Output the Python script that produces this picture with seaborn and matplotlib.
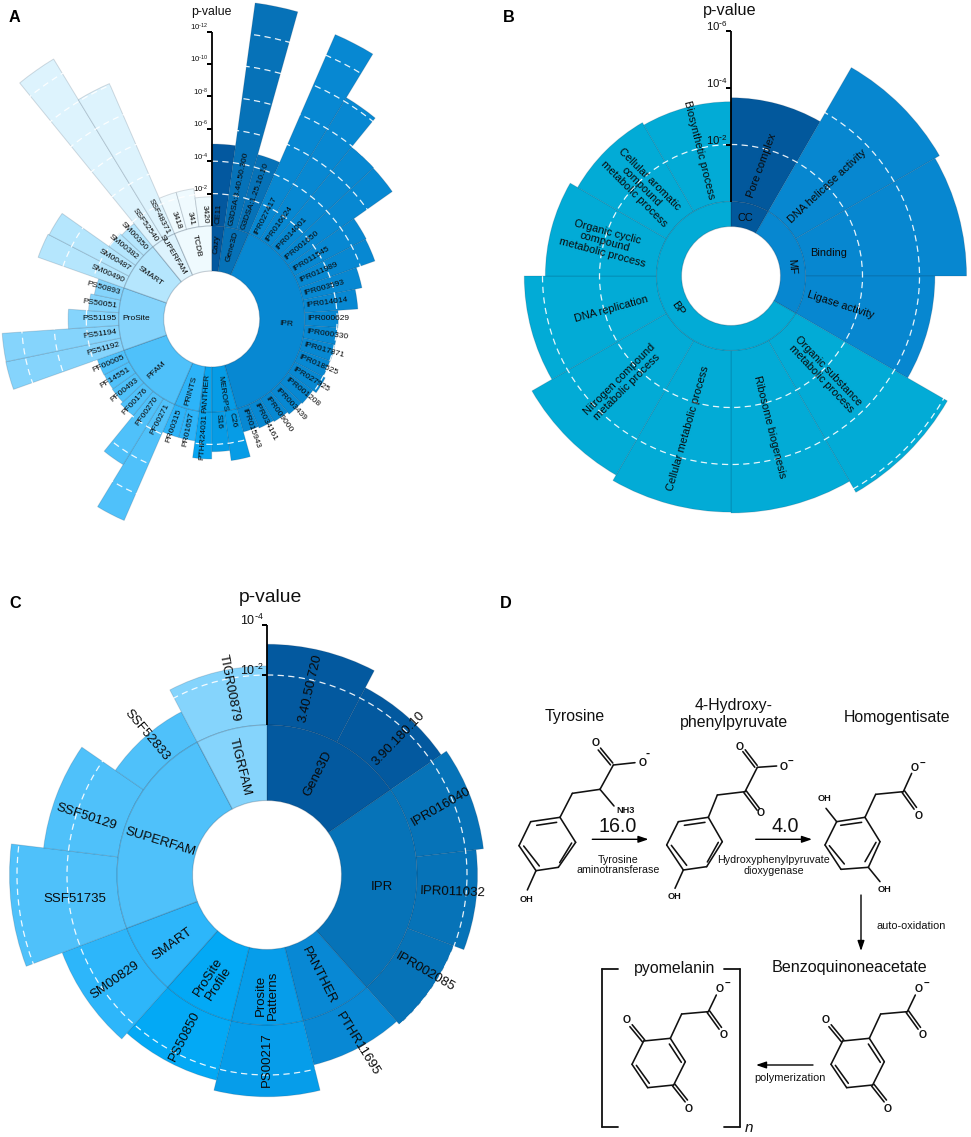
import numpy as np
import pandas as pd
import matplotlib
matplotlib.use("Agg")
import matplotlib.pyplot as plt
import seaborn as sns

W, H = 971, 1137

# ---------- Panel A data ----------
a_groups = ["Cazy", "Gene3D", "IPR", "MEROPS", "PANTHER", "PRINTS", "PFAM", "ProSite", "SMART", "SUPERFAM", "TCDB"]
a_counts = [1, 2, 18, 2, 1, 2, 6, 5, 4, 2, 3]
a_colors = ["#03589F", "#0672B8", "#0788D2", "#069CE6", "#08A5F1", "#2DB4F9", "#4FC1FA", "#85D4FC", "#B5E6FD", "#DDF3FD", "#EFFAFE"]
a_labels = ["CE11", "G3DSA:3.40.50.300", "G3DSA:1.25.10.10", "IPR027417", "IPR016024", "IPR014001", "IPR001650",
            "IPR011545", "IPR011989", "IPR003593", "IPR014014", "IPR000629", "IPR000330", "IPR017871", "IPR018525",
            "IPR027925", "IPR001208", "IPR003439", "IPR009000", "IPR034161", "IPR015943", "C26", "S16", "PTHR24031",
            "PR01657", "PR00315", "PF00271", "PF00270", "PF00176", "PF00493", "PF14551", "PF00005", "PS51192",
            "PS51194", "PS51195", "PS50051", "PS50893", "SM00490", "SM00487", "SM00382", "SM00350", "SSF52540",
            "SSF48371", "3418", "341", "3420"]
a_logp = [5.06, 13.95, 4.8, 13.4, 10.25, 7.94, 7.9, 5.0, 4.95, 3.73, 3.3, 2.07, 2.03, 2.03, 2.0, 2.15, 1.9, 1.83,
          1.67, 1.6, 1.5, 3.08, 2.45, 2.9, 1.85, 1.85, 7.82, 4.78, 1.95, 1.77, 1.73, 1.75, 7.24, 7.22, 3.12, 1.88,
          1.66, 5.63, 5.56, 2.02, 1.85, 13.04, 10.1, 2.38, 2.38, 1.8]
a_ticks = [2, 4, 6, 8, 10, 12]

# ---------- Panel B data ----------
b_groups = ["CC", "MF", "BP"]
b_counts = [1, 3, 8]
b_colors = ["#02589C", "#0787D0", "#02ABD6"]
b_labels = ["Pore complex", "DNA helicase activity", "Binding", "Ligase activity",
            "Organic substance\nmetabolic process", "Ribosome biogenesis", "Cellular metabolic process",
            "Nitrogen compound\nmetabolic process", "DNA replication",
            "Organic cyclic\ncompound\nmetabolic process", "Cellular aromatic\ncompound\nmetabolic process",
            "Biosynthetic process"]
b_logp = [3.64, 5.83, 5.65, 4.54, 6.15, 5.7, 5.67, 5.45, 4.64, 3.9, 3.6, 3.5]
b_ticks = [2, 4, 6]

# ---------- Panel C data ----------
c_groups = ["Gene3D", "IPR", "PANTHER", "Prosite\nPatterns", "ProSite\nProfile", "SMART", "SUPERFAM", "TIGRFAM"]
c_counts = [2, 3, 1, 1, 1, 1, 3, 1]
c_colors = ["#03599F", "#0673B8", "#0888D4", "#069DEA", "#03A9F5", "#2DB6FA", "#4FC1FA", "#85D4FC"]
c_labels = ["3.40.50.720", "3.90.180.10", "IPR016040", "IPR011032", "IPR002085", "PTHR11695", "PS00217", "PS50850",
            "SM00829", "SSF51735", "SSF50129", "SSF52833", "TIGR00879"]
c_logp = [3.23, 2.46, 2.72, 2.42, 1.98, 1.82, 2.87, 2.45, 2.76, 4.3, 3.0, 1.37, 2.36]
c_ticks = [2, 4]

# ---------- label placement (theta deg, radial position, rotation) ----------
b_leaf_place = [(15.5, 1.4, 70), (47, 2.0, 43), (76.7, 0.9, 0), (105, 1.35, -18), (136.5, 2.17, -46.5),
                (165.5, 2.85, -76), (195.7, 2.93, 74), (225, 2.72, 45), (254.5, 1.73, 15.5), (285, 1.97, -15),
                (315, 1.82, -45), (346, 1.95, -76)]
b_ring_place = [(13.6, -0.53, 0), (81, -0.47, -85), (239, -0.44, -55)]
c_leaf_place = [(13, 1.66, 77), (43.8, 1.58, 46), (68.6, 1.5, 30), (95.4, 1.48, -2), (121.6, 1.43, -30),
                (152, 1.68, -58), (180, 1.4, 90), (207, 1.25, 63), (235.4, 1.39, 35), (263, 1.74, 0),
                (287.7, 1.6, -18), (319.3, 1.38, -50), (348.6, 1.62, -79)]
c_ring_place = [(26.8, -1.44, 63), (96, -1.36, 0), (153, -1.48, -63), (180, -1.2, 90), (207, -1.28, 57),
                (234, -1.32, 36), (287, -1.52, -17), (346, -1.54, -76)]

sns.set_theme(style="white")
plt.rcParams["font.family"] = ["Liberation Sans", "DejaVu Sans"]
plt.rcParams["mathtext.default"] = "regular"
fig = plt.figure(figsize=(W / 100, H / 100), dpi=100)
fig.patch.set_facecolor("white")

EDGE = (0.05, 0.15, 0.25, 0.16)


def sunburst(cx, cy, hole, ring_r, scale, outer, groups, counts, colors, labels, logp, ticks,
             tick_fs, title, title_xy, title_fs, top):
    ax = fig.add_axes([(cx - outer) / W, 1 - (cy + outer) / H, 2 * outer / W, 2 * outer / H],
                      projection="polar")
    n = len(labels)
    step = 2 * np.pi / n
    owner = np.repeat(groups, counts)
    df = pd.DataFrame({"theta": (np.arange(n) + 0.5) * step, "logp": logp, "group": owner})
    sns.barplot(data=df, x="theta", y="logp", hue="group", palette=dict(zip(groups, colors)), orient="x",
                native_scale=True, dodge=False, width=1, saturation=1, errorbar=None, legend=False, ax=ax,
                edgecolor=EDGE, linewidth=0.7)
    ring_bottom = -(ring_r - hole) / scale
    starts = np.concatenate([[0], np.cumsum(counts)[:-1]]) * step
    ax.bar(starts, [-ring_bottom] * len(groups), width=np.array(counts) * step, bottom=ring_bottom, align="edge",
           color=colors, edgecolor=(0.05, 0.15, 0.25, 0.22), linewidth=0.8)
    ax.set_theta_zero_location("N")
    ax.set_theta_direction(-1)
    ax.set_xlim(0, 2 * np.pi)
    ax.set_ylim(-ring_r / scale, (outer - ring_r) / scale)
    ax.set_xticks([])
    ax.set_yticks(ticks)
    ax.set_yticklabels([])
    ax.set_xlabel("")
    ax.set_ylabel("")
    ax.set_axisbelow(False)
    ax.yaxis.grid(True, color="white", linestyle=(0, (5, 3.5)), linewidth=0.9, alpha=0.9)
    ax.xaxis.grid(False)
    ax.spines["polar"].set_visible(False)
    ax.patch.set_alpha(0)
    ax.plot([0, 0], [0, top], color="black", lw=1.3, zorder=6, solid_capstyle="butt")
    ax.plot([0] * len(ticks), ticks, ls="", marker=0, ms=3.6, mew=1.1, color="black", zorder=6)
    for t in ticks:
        ax.annotate(rf"$10^{{\text{{-}}{t}}}$", xy=(0, t), xytext=(-2.5, 3), textcoords="offset points",
                    ha="right", va="center", fontsize=tick_fs, color="#111111", zorder=7)
    fig.text(title_xy[0] / W, 1 - title_xy[1] / H, title, fontsize=title_fs, ha="center", va="center", color="#111111")
    return ax, step, starts


# ---------- Panel A ----------
ax, step, starts = sunburst(211.7, 319, 48, 93, 16.2, 322, a_groups, a_counts, a_colors, a_labels, a_logp, a_ticks,
                            5.6, "p-value", (211, 12), 8.8, 12)
for i, lab in enumerate(a_labels):
    deg = (i + 0.5) * 360 / len(a_labels)
    right = deg < 180
    ax.text(np.radians(deg), 0.15, lab, rotation=(90 - deg) if right else (270 - deg), rotation_mode="anchor",
            ha="left" if right else "right", va="center", fontsize=6.0, color="#0a0a0a", zorder=8)
for g, s, c in zip(a_groups, starts, a_counts):
    mid = s + c * step / 2
    deg = np.degrees(mid)
    ax.text(mid, -1.11, g, rotation=(90 - deg) if deg < 180 else (270 - deg), rotation_mode="anchor",
            ha="center", va="center", fontsize=6.0, color="#0a0a0a", zorder=8)

# ---------- Panel B ----------
ax, step, starts = sunburst(731, 276, 49.5, 74.5, 28.5, 256, b_groups, b_counts, b_colors, b_labels, b_logp, b_ticks,
                            8.2, "p-value", (730, 10), 11.7, 6)
for lab, (deg, d, rot) in zip(b_labels, b_leaf_place):
    ax.text(np.radians(deg), d, lab, rotation=rot, rotation_mode="anchor", ha="center", va="center",
            fontsize=7.9, color="#0a0a0a", zorder=8, linespacing=1.05)
for g, (deg, d, rot) in zip(b_groups, b_ring_place):
    ax.text(np.radians(deg), d, g, rotation=rot, rotation_mode="anchor", ha="center", va="center",
            fontsize=7.9, color="#0a0a0a", zorder=8)

# ---------- Panel C ----------
ax, step, starts = sunburst(267, 875, 74.5, 150, 25, 262, c_groups, c_counts, c_colors, c_labels, c_logp, c_ticks,
                            9, "p-value", (270, 597), 13.9, 4)
for lab, (deg, d, rot) in zip(c_labels, c_leaf_place):
    ax.text(np.radians(deg), d, lab, rotation=rot, rotation_mode="anchor", ha="center", va="center",
            fontsize=9.5, color="#0a0a0a", zorder=8)
for g, (deg, d, rot) in zip(c_groups, c_ring_place):
    ax.text(np.radians(deg), d, g, rotation=rot, rotation_mode="anchor", ha="center", va="center",
            fontsize=9.5, color="#0a0a0a", zorder=8, linespacing=1.05)

# ---------- Panel letters ----------
for letter, (x, y) in {"A": (14, 17), "B": (509, 17), "C": (15, 603), "D": (506, 603)}.items():
    fig.text(x / W, 1 - y / H, letter, fontsize=11.7, fontweight="bold", ha="center", va="center", color="black")

# ---------- Panel D: reaction scheme, drawn in pixel space ----------
dx = fig.add_axes([0, 0, 1, 1])
dx.set_xlim(0, W)
dx.set_ylim(H, 0)
dx.axis("off")
dx.patch.set_alpha(0)


def top_pt(p):
    return 510 + p[0] / 3, 680 + p[1] / 3


def low_pt(p):
    return 510 + p[0] / 3, 920 + p[1] / 3


def seg(conv, a, b, lw=1.15):
    a, b = conv(a), conv(b)
    dx.plot([a[0], b[0]], [a[1], b[1]], color="#111111", lw=lw, solid_capstyle="round")


def path(conv, pts, lw=1.15):
    for a, b in zip(pts[:-1], pts[1:]):
        seg(conv, a, b, lw)


def dbl(conv, a, b, off=4.5):
    a, b = np.array(a, float), np.array(b, float)
    n = np.array([-(b - a)[1], (b - a)[0]])
    n = n / np.hypot(*n) * off
    seg(conv, a + n, b + n)
    seg(conv, a - n, b - n)


def atom(conv, p, s, fs=6.6, weight="bold"):
    x, y = conv(p)
    dx.text(x, y, s, fontsize=fs, fontweight=weight, ha="center", va="center", color="#111111")


# Tyrosine
ring = [(62, 425), (150, 412), (197, 487), (145, 562), (78, 572), (27, 497), (62, 425)]
path(top_pt, ring)
seg(top_pt, (80, 436), (140, 427)); seg(top_pt, (185, 489), (149, 548)); seg(top_pt, (88, 558), (41, 498))
seg(top_pt, (78, 572), (52, 630)); atom(top_pt, (48, 660), "OH")
path(top_pt, [(150, 412), (187, 340), (270, 328), (310, 255), (375, 248)])
seg(top_pt, (270, 328), (312, 378)); atom(top_pt, (347, 392), "NH3")
dbl(top_pt, (305, 252), (268, 207)); atom(top_pt, (258, 188), "O", 7.5); atom(top_pt, (397, 249), "O", 7.5)
atom(top_pt, (414, 222), "-", 9)
# 4-Hydroxyphenylpyruvate
ring = [(505, 425), (595, 412), (637, 485), (590, 560), (520, 570), (470, 495), (505, 425)]
path(top_pt, ring)
seg(top_pt, (523, 436), (585, 427)); seg(top_pt, (625, 487), (592, 546)); seg(top_pt, (530, 556), (484, 496))
seg(top_pt, (520, 570), (495, 625)); atom(top_pt, (492, 650), "OH")
path(top_pt, [(595, 412), (622, 345), (705, 335), (742, 262), (800, 258)])
dbl(top_pt, (738, 259), (702, 212)); dbl(top_pt, (705, 335), (745, 388))
atom(top_pt, (690, 200), "O", 7.5); atom(top_pt, (752, 398), "O", 7.5); atom(top_pt, (820, 260), "O", 7.5)
atom(top_pt, (843, 243), "\u2212", 7)
# Homogentisate
ring = [(980, 425), (1065, 412), (1110, 485), (1075, 562), (993, 568), (945, 495), (980, 425)]
path(top_pt, ring)
seg(top_pt, (992, 436), (1055, 427)); seg(top_pt, (1098, 487), (1065, 545)); seg(top_pt, (1003, 552), (958, 497))
seg(top_pt, (980, 425), (948, 385)); atom(top_pt, (942, 355), "OH")
seg(top_pt, (1075, 562), (1110, 605)); atom(top_pt, (1125, 630), "OH")
path(top_pt, [(1065, 412), (1097, 343), (1180, 335), (1205, 280)])
dbl(top_pt, (1180, 335), (1216, 385))
atom(top_pt, (1213, 265), "O", 7.5); atom(top_pt, (1225, 407), "O", 7.5); atom(top_pt, (1236, 248), "\u2212", 7)


def quinone(off):
    o = lambda p: (p[0] + off, p[1])
    ring = [(998, 363), (1078, 355), (1123, 425), (1088, 495), (1010, 503), (963, 433), (998, 363)]
    path(low_pt, [o(p) for p in ring])
    seg(low_pt, o((1075, 372)), o((1111, 427))); seg(low_pt, o((976, 436)), o((1015, 490)))
    dbl(low_pt, o((998, 363)), o((960, 317))); dbl(low_pt, o((1088, 495)), o((1126, 543)))
    path(low_pt, [o((1078, 355)), o((1112, 282)), o((1192, 275)), o((1216, 225))])
    dbl(low_pt, o((1192, 275)), o((1228, 325)))
    for p, s in [((948, 300), "O"), ((1133, 567), "O"), ((1226, 207), "O"), ((1238, 346), "O")]:
        atom(low_pt, o(p), s, 7.5, "bold")
    atom(low_pt, o((1249, 190)), "\u2212", 7)


quinone(0)
quinone(-597)
path(low_pt, [(325, 147), (277, 147), (277, 622), (325, 622)], 1.3)
path(low_pt, [(642, 147), (690, 147), (690, 622), (642, 622)], 1.3)
x, y = low_pt((718, 625))
dx.text(x, y, "n", fontsize=11, fontstyle="italic", ha="center", va="center", color="#111111")


def arrow(a, b):
    dx.annotate("", xy=b, xytext=a, arrowprops=dict(arrowstyle="-|>,head_length=0.5,head_width=0.17", color="black",
                                                    lw=1.0, shrinkA=0, shrinkB=0))


arrow((592.3, 839.3), (648.5, 839.3))
arrow((755.7, 839.3), (812, 839.3))
arrow((861, 895), (861, 951))
arrow((813, 1065), (756, 1065))

texts = [("Tyrosine", 574.3, 716, 11.4), ("4-Hydroxy-\nphenylpyruvate", 734, 714, 11.4),
         ("Homogentisate", 896.7, 717.3, 11.4), ("16.0", 617.3, 826, 14.2), ("4.0", 785, 826, 14.2),
         ("Tyrosine\naminotransferase", 617.7, 865, 7.7), ("Hydroxyphenylpyruvate\ndioxygenase", 774, 865.3, 7.7),
         ("auto-oxidation", 911, 925.7, 7.8), ("Benzoquinoneacetate", 849, 967.3, 11.6),
         ("pyomelanin", 675, 968.3, 11.4), ("polymerization", 789.5, 1078, 7.9)]
for s, x, y, fs in texts:
    dx.text(x, y, s, fontsize=fs, ha="center", va="center", color="#111111", linespacing=1.1)

fig.savefig("out.png", dpi=100, facecolor="white")
